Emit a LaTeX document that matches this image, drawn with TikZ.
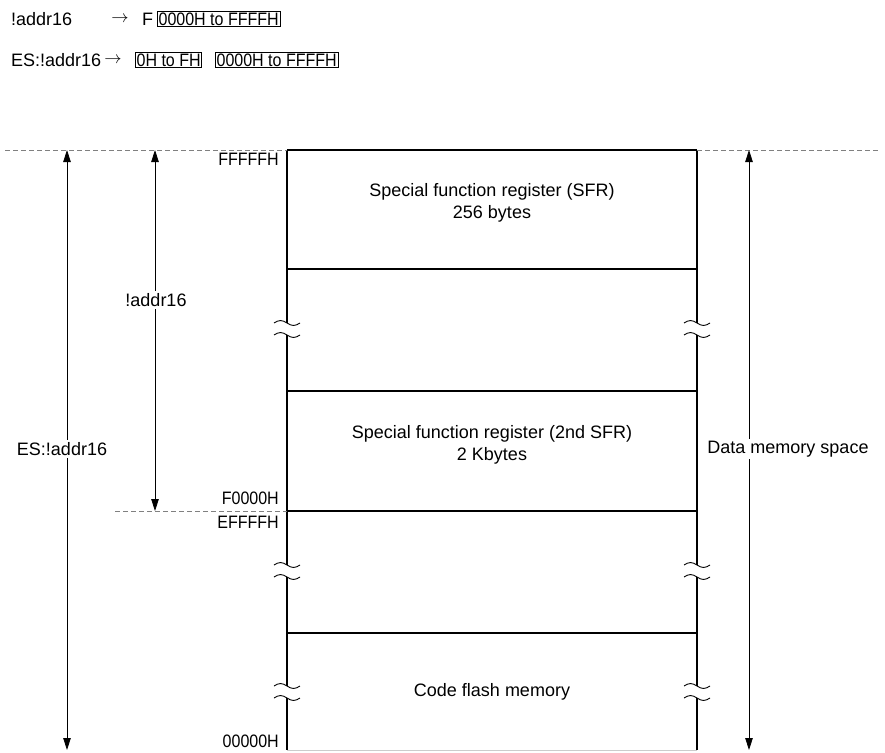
\documentclass[tikz,border=0pt]{standalone}
\usepackage{fontspec}
\setmainfont{Liberation Sans}
\usetikzlibrary{arrows.meta,calc}
\newcommand{\addr}[1]{\scalebox{0.89}[1]{\fontsize{18}{18}\selectfont #1}}

\begin{document}
\begin{tikzpicture}[
  x=1pt, y=-1pt,
  >={Triangle[length=12pt,width=7.5pt]},
  every node/.style={font=\fontsize{18}{22}\selectfont, inner sep=1pt},
  memline/.style={line width=1.6pt},
  dimline/.style={line width=0.8pt},
  guide/.style={line width=0.8pt, gray, dash pattern=on 5pt off 3pt},
  addrbox/.style={draw, line width=0.8pt, inner sep=1.2pt},
  addrlbl/.style={anchor=east, inner sep=0pt},
  spanlbl/.style={fill=white, inner sep=2pt}
]
  \useasboundingbox (0,0) rectangle (885,752);

  % header: address forms
  \node[anchor=west] (hA) at (10,19) {!addr16};
  \node (hAarr) at (120,19) {$\rightarrow$};
  \node[anchor=west] (hAf) at (141,19) {F};
  \node[addrbox, anchor=west] (hAbox) at (157,19) {\addr{0000H to FFFFH}};
  \node[anchor=west] (hB) at (10,60) {ES:!addr16};
  \node (hBarr) at (113,60) {$\rightarrow$};
  \node[addrbox, anchor=west] (hBes) at (135,60) {\addr{0H to FH}};
  \node[addrbox, anchor=west] (hBbox) at (215,60) {\addr{0000H to FFFFH}};

  % memory map corners
  \coordinate (mtl) at (287,150);
  \coordinate (mtr) at (697,150);
  \coordinate (mbl) at (287,750);
  \coordinate (mbr) at (697,750);
  \coordinate (sfrl) at (287,511);

  \draw[memline] (mtl) -- (mtr);
  \foreach \y in {269,391,511,633}{
    \draw[memline] (287,\y) -- (697,\y);
  }
  \draw[gray!40, line width=0.8pt] (mbl) -- (mbr);

  % side walls with breaks
  \foreach \x in {287,697}{
    \draw[memline] (\x,150) -- (\x,323) (\x,335) -- (\x,565)
                   (\x,577) -- (\x,686) (\x,698) -- (\x,750);
    \foreach \y in {323,335,565,577,686,698}{
      \draw[line width=0.9pt] (\x-13,\y) sin (\x-6.5,\y-2.5) cos (\x,\y)
                              sin (\x+6.5,\y+2.5) cos (\x+13,\y);
    }
  }

  % area names
  \node[align=center] (sfr) at (492,203) {Special function register (SFR)\\256 bytes};
  \node[align=center] (sfr2) at (492,445) {Special function register (2nd SFR)\\2 Kbytes};
  \node (cfm) at (492,692) {Code flash memory};

  % addresses
  \node[addrlbl] (aTop) at (279,159) {\addr{FFFFFH}};
  \node[addrlbl] (aF0) at (279,498) {\addr{F0000H}};
  \node[addrlbl] (aEF) at (279,522) {\addr{EFFFFH}};
  \node[addrlbl] (aBot) at (279,741) {\addr{00000H}};

  % guide lines
  \coordinate (gl) at (5,150);
  \coordinate (gr) at (880,150);
  \coordinate (gm) at (115,511);
  \draw[guide] (gl) -- (mtl);
  \draw[guide] (mtr) -- (gr);
  \draw[guide] (gm) -- (sfrl);

  % address spans
  \coordinate (esT) at (67,150);
  \coordinate (esB) at (67,750);
  \coordinate (abT) at (155,150);
  \coordinate (abB) at (155,511);
  \coordinate (dmT) at (749,150);
  \coordinate (dmB) at (749,750);
  \draw[dimline, <->] (esT) -- (esB);
  \draw[dimline, <->] (abT) -- (abB);
  \draw[dimline, <->] (dmT) -- (dmB);
  \node[spanlbl] (esl) at (62,449) {ES:!addr16};
  \node[spanlbl] (abl) at (156,300) {!addr16};
  \node[spanlbl] (dml) at (788,449) {Data memory space};
\end{tikzpicture}
\end{document}
